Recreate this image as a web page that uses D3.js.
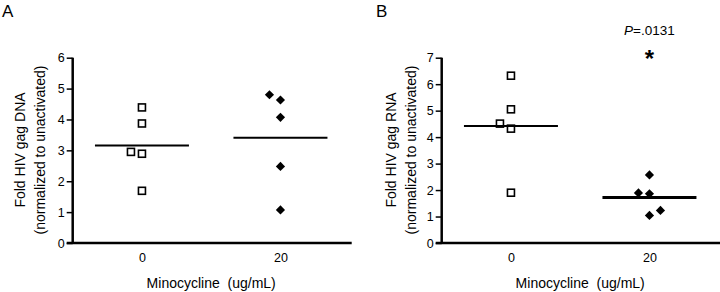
<!DOCTYPE html>
<html>
<head>
<meta charset="utf-8">
<script src="https://cdn.jsdelivr.net/npm/d3@7"></script>
<style>
  body { margin: 0; background: #fff; }
  svg { font-family: Arial, "Liberation Sans", sans-serif; }
  .axis path, .axis line { stroke: #000; }
  .axis text { font-size: 12.5px; fill: #000; }
</style>
</head>
<body>
<svg width="720" height="292"></svg>
<script>
// doses on x, same for both panels
var doses = ["0", "20"];

// panel A: fold HIV gag DNA
var dnaCtrl = [4.39, 3.87, 2.95, 2.89, 1.69];
var dnaMino = [4.80, 4.63, 4.07, 2.48, 1.07];
var dnaCtrlDodge = [0, 0, -1, 0, 0];
var dnaMinoDodge = [-1, 0, 0, 0, 0];

// panel B: fold HIV gag RNA
var rnaCtrl = [6.32, 5.05, 4.51, 4.32, 1.90];
var rnaMino = [2.57, 1.89, 1.86, 1.23, 1.04];
var rnaCtrlDodge = [0, 0, -1, 0, 0];
var rnaMinoDodge = [0, -1, 0, 1, 0];

var pLabel = "=.0131";

var svg = d3.select("svg");

function panel(opt) {
  var g = svg.append("g").attr("transform", "translate(" + opt.left + ",0)");
  var width = 277, top = 57.7, bottom = 243;

  var x = d3.scalePoint().domain(doses).range([0, width]).padding(0.5);
  var y = d3.scaleLinear().domain([0, opt.ymax]).range([bottom, top]);

  g.append("g")
    .attr("class", "axis")
    .call(d3.axisLeft(y).ticks(opt.ymax).tickSize(6).tickPadding(2))
    .call(function(a) {
      a.select(".domain").attr("stroke-width", 2.5).attr("d", "M0," + (bottom + 1) + "V" + top);
      a.selectAll(".tick line").attr("stroke-width", 1.5);
    });

  g.append("g")
    .attr("class", "axis")
    .attr("transform", "translate(0," + bottom + ")")
    .call(d3.axisBottom(x).tickSize(0).tickPadding(10))
    .call(function(a) {
      a.select(".domain").attr("stroke-width", 2.5).attr("d", "M-6,0H" + (width + 2));
    });

  // y title, two lines
  var yt = g.append("text")
    .attr("transform", "translate(" + opt.titleX + ",150) rotate(-90)")
    .attr("text-anchor", "middle")
    .style("font-size", "14px");
  yt.append("tspan").attr("x", 0).attr("dy", 0).text(opt.ylabel);
  yt.append("tspan").attr("x", 0).attr("dy", 20).text("(normalized to unactivated)");

  g.append("text")
    .attr("x", width / 2)
    .attr("y", 288)
    .attr("text-anchor", "middle")
    .style("font-size", "14px")
    .style("white-space", "pre")
    .attr("xml:space", "preserve")
    .text("Minocycline  (ug/mL)");

  svg.append("text")
    .attr("x", opt.labelX)
    .attr("y", 17)
    .style("font-size", "17px")
    .text(opt.letter);

  var dodge = 11;

  // controls: open squares
  g.selectAll(".sq")
    .data(opt.ctrl)
    .enter().append("rect")
    .attr("x", function(d, i) { return x(doses[0]) + opt.ctrlDodge[i] * dodge - 3.5; })
    .attr("y", function(d) { return y(d) - 3.5; })
    .attr("width", 7)
    .attr("height", 7)
    .attr("fill", "#fff")
    .attr("stroke", "#000")
    .attr("stroke-width", 1.6);

  // minocycline: filled diamonds
  var diamond = "M0,-4.6L4.6,0L0,4.6L-4.6,0Z";
  g.selectAll(".dm")
    .data(opt.mino)
    .enter().append("path")
    .attr("d", diamond)
    .attr("transform", function(d, i) {
      return "translate(" + (x(doses[1]) + opt.minoDodge[i] * dodge) + "," + y(d) + ")";
    })
    .attr("fill", "#000");

  // mean lines
  [opt.ctrl, opt.mino].forEach(function(vals, k) {
    var m = d3.mean(vals);
    g.append("line")
      .attr("x1", x(doses[k]) - 47)
      .attr("x2", x(doses[k]) + 47)
      .attr("y1", y(m))
      .attr("y2", y(m))
      .attr("stroke", "#000")
      .attr("stroke-width", opt.meanW[k]);
  });

  return {g: g, x: x, y: y};
}

panel({
  left: 72.7, ymax: 6, letter: "A", labelX: 2, titleX: -47.5,
  ylabel: "Fold HIV gag DNA",
  ctrl: dnaCtrl, mino: dnaMino, ctrlDodge: dnaCtrlDodge, minoDodge: dnaMinoDodge,
  meanW: [2, 2]
});

var b = panel({
  left: 441.7, ymax: 7, letter: "B", labelX: 376, titleX: -45.7,
  ylabel: "Fold HIV gag RNA",
  ctrl: rnaCtrl, mino: rnaMino, ctrlDodge: rnaCtrlDodge, minoDodge: rnaMinoDodge,
  meanW: [2, 3]
});

var pt = b.g.append("text")
  .attr("x", b.x(doses[1]))
  .attr("y", 35)
  .attr("text-anchor", "middle")
  .style("font-size", "13.5px");
pt.append("tspan").style("font-style", "italic").text("P");
pt.append("tspan").text(pLabel);

b.g.append("text")
  .attr("x", b.x(doses[1]))
  .attr("y", 67)
  .attr("text-anchor", "middle")
  .style("font-size", "24px")
  .style("font-weight", "bold")
  .text("*");
</script>
</body>
</html>
